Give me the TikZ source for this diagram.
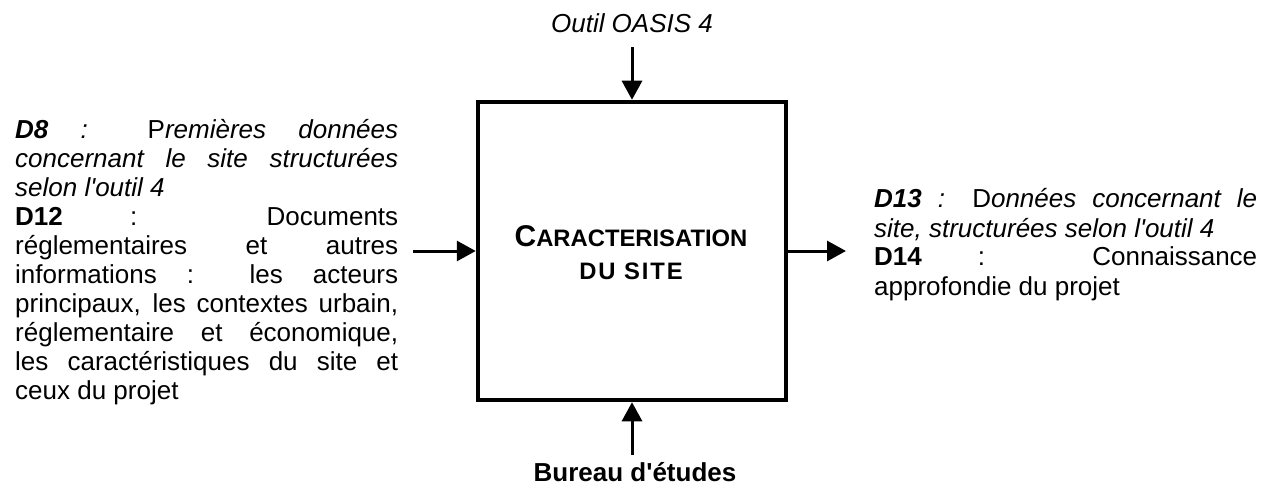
\documentclass[tikz,border=0pt]{standalone}
\usepackage{fontspec}
\setmainfont{Liberation Sans}[Ligatures=TeXOff]
\usetikzlibrary{arrows.meta}

\begin{document}
\begin{tikzpicture}[x=1pt, y=-1pt,
    every node/.style={inner sep=0pt, font=\fontsize{26}{29}\selectfont},
    bloc/.style={draw, line width=4.5pt, minimum width=308pt, minimum height=298pt},
    texte/.style={text width=383pt, align=justify, anchor=base west,
        execute at begin node={\tolerance=10000\hyphenpenalty=10000}},
    fleche/.style={line width=3pt, -{Triangle[length=19pt, width=20pt]}}]
    \useasboundingbox (0,0) rectangle (1273,486);
    % Noeuds
    \node[bloc] (fonction) at (632,251) {};
    \node[align=center, font=\fontsize{23.8}{33}\selectfont\bfseries] (titre) at (631,253) {{\fontsize{30}{33}\selectfont C}ARACTERISATION\\{\addfontfeature{LetterSpace=8}DU SITE}};
    \node[anchor=base] (outil) at (632,33) {\textit{Outil OASIS 4}};
    \node[anchor=base] (bureau) at (635,481) {\textbf{Bureau d'études}};
    \node[texte] (entree) at (15,139) {\textbf{\textit{D8}} \textit{:} P\textit{remières données\linebreak concernant le site structurées\linebreak selon l'outil 4}\\
        \textbf{D12} : Documents\linebreak réglementaires et autres\linebreak informations : les acteurs\linebreak principaux, les contextes urbain,\linebreak réglementaire et économique,\linebreak les caractéristiques du site et\linebreak ceux du projet};
    \node[texte] (sortie) at (874,208) {\textbf{\textit{D13}} \textit{:} D\textit{onnées concernant le\linebreak site, structurées selon l'outil 4}\\
        \textbf{D14} : Connaissance\linebreak approfondie du projet};
    % Fleches
    \draw[fleche, shorten <=14pt] (outil.south) -- (fonction.north);
    \draw[fleche, shorten <=7pt] (fonction.south |- bureau.north) -- (fonction.south);
    \draw[fleche] ([xshift=15pt]entree.east |- fonction.west) -- (fonction.west);
    \draw[fleche] (fonction.east) -- ([xshift=-28pt]sortie.west |- fonction.east);
\end{tikzpicture}
\end{document}
